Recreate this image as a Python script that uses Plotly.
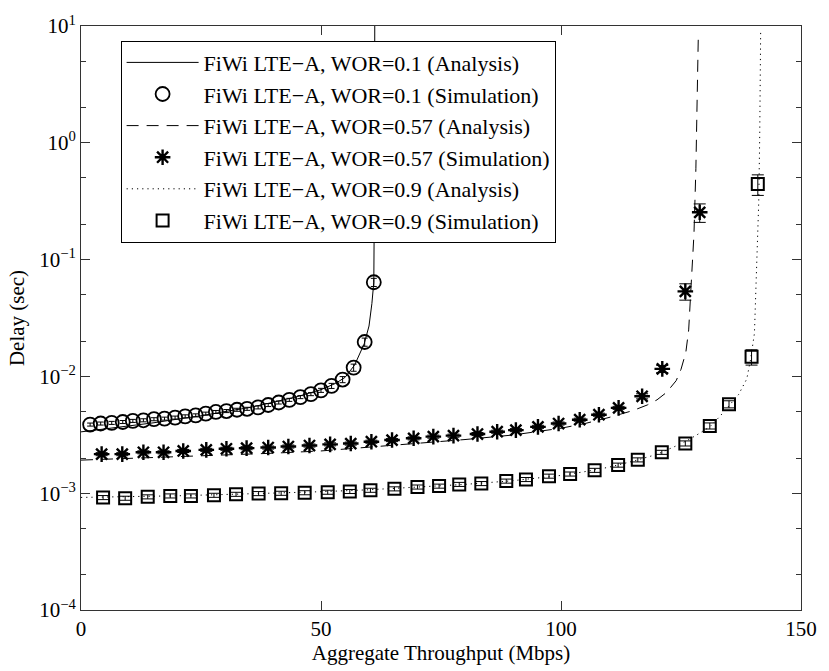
import plotly.graph_objects as go

# ---------------- data ----------------
# WOR = 0.1
ana1_x = [0, 5, 10, 15, 20, 25, 30, 35, 40, 45, 50, 53, 55, 57, 59, 60, 60.6, 61.0, 61.15, 61.2]
ana1_y = [3.35e-3, 3.55e-3, 3.75e-3, 4.0e-3, 4.3e-3, 4.6e-3, 5.0e-3, 5.4e-3, 6.0e-3, 6.7e-3,
          7.7e-3, 8.7e-3, 9.8e-3, 0.0125, 0.019, 0.027, 0.042, 0.064, 0.5, 10]
sim1_x = [1.9, 4.1, 6.4, 8.7, 10.8, 13.0, 15.2, 17.4, 19.6, 21.7, 23.9, 26.0, 28.1, 30.3,
          32.5, 34.6, 36.9, 39.0, 41.2, 43.4, 45.7, 47.9, 50.0, 52.2, 54.5, 56.8, 59.1, 61.0]
sim1_y = [3.87e-3, 3.95e-3, 4.0e-3, 4.07e-3, 4.16e-3, 4.21e-3, 4.30e-3, 4.35e-3, 4.44e-3,
          4.55e-3, 4.64e-3, 4.80e-3, 4.96e-3, 5.05e-3, 5.18e-3, 5.28e-3, 5.43e-3, 5.69e-3,
          5.98e-3, 6.3e-3, 6.65e-3, 7.05e-3, 7.6e-3, 8.3e-3, 9.4e-3, 0.0119, 0.0197, 0.064]
sim1_rel = [0.03] * 22 + [0.04, 0.05, 0.06, 0.07, 0.08, 0.08]

# WOR = 0.57
ana2_x = [0, 10, 20, 30, 40, 50, 60, 70, 80, 90, 100, 105, 110, 115, 118, 120, 122, 124,
          125, 126, 126.6, 127.0, 127.4, 127.7, 128.1, 128.4, 128.6]
ana2_y = [1.92e-3, 1.98e-3, 2.05e-3, 2.12e-3, 2.2e-3, 2.3e-3, 2.48e-3, 2.66e-3, 2.88e-3,
          3.15e-3, 3.6e-3, 3.95e-3, 4.45e-3, 5.1e-3, 5.7e-3, 6.3e-3, 7.3e-3, 9.2e-3,
          0.0115, 0.016, 0.025, 0.05, 0.1, 0.165, 0.6, 2.2, 8.0]
sim2_x = [4.3, 8.6, 13.0, 17.2, 21.3, 26.1, 30.3, 34.5, 39.0, 43.2, 47.6, 51.9, 56.2, 60.5,
          64.8, 69.3, 73.4, 77.6, 82.6, 86.7, 90.6, 95.2, 99.5, 103.9, 107.9, 112.0, 116.9,
          121.1, 125.9, 128.9]
sim2_y = [2.16e-3, 2.16e-3, 2.24e-3, 2.24e-3, 2.30e-3, 2.35e-3, 2.40e-3, 2.43e-3, 2.46e-3,
          2.51e-3, 2.56e-3, 2.62e-3, 2.66e-3, 2.76e-3, 2.85e-3, 2.95e-3, 3.05e-3, 3.11e-3,
          3.21e-3, 3.36e-3, 3.47e-3, 3.70e-3, 3.95e-3, 4.26e-3, 4.70e-3, 5.38e-3, 6.76e-3,
          0.0116, 0.0535, 0.254]
sim2_rel = [0.03] * 26 + [0.05, 0.07, 0.16, 0.18]

# WOR = 0.9
ana3_x = [0, 10, 20, 30, 40, 50, 60, 70, 80, 90, 100, 105, 110, 115, 120, 125, 128, 131,
          133, 135, 137, 138.7, 139.5, 140.3, 140.8, 141.2, 141.4, 141.6]
ana3_y = [9.2e-4, 9.3e-4, 9.5e-4, 9.75e-4, 1.0e-3, 1.03e-3, 1.07e-3, 1.12e-3, 1.19e-3,
          1.28e-3, 1.42e-3, 1.53e-3, 1.67e-3, 1.88e-3, 2.15e-3, 2.65e-3, 3.1e-3, 3.7e-3,
          4.5e-3, 5.6e-3, 7.0e-3, 9.5e-3, 0.014, 0.0234, 0.086, 0.314, 1.15, 9.4]
sim3_x = [4.6, 9.2, 13.9, 18.6, 22.9, 27.7, 32.3, 37.0, 41.7, 46.6, 51.4, 56.0, 60.3, 65.3,
          70.1, 74.6, 78.8, 83.4, 88.6, 92.7, 97.5, 101.9, 107.0, 111.9, 116.0, 121.0,
          125.9, 131.0, 135.0, 139.7, 141.0]
sim3_y = [9.18e-4, 9.06e-4, 9.31e-4, 9.48e-4, 9.48e-4, 9.6e-4, 9.79e-4, 9.93e-4, 9.99e-4,
          1.01e-3, 1.02e-3, 1.035e-3, 1.06e-3, 1.09e-3, 1.13e-3, 1.15e-3, 1.19e-3, 1.21e-3,
          1.27e-3, 1.31e-3, 1.40e-3, 1.46e-3, 1.57e-3, 1.74e-3, 1.93e-3, 2.24e-3, 2.67e-3,
          3.77e-3, 5.78e-3, 0.0147, 0.443]
sim3_rel = [0.04] * 26 + [0.05, 0.06, 0.07, 0.15, 0.2]

names = [
    "FiWi LTE\u2212A, WOR=0.1 (Analysis)",
    "FiWi LTE\u2212A, WOR=0.1 (Simulation)",
    "FiWi LTE\u2212A, WOR=0.57 (Analysis)",
    "FiWi LTE\u2212A, WOR=0.57 (Simulation)",
    "FiWi LTE\u2212A, WOR=0.9 (Analysis)",
    "FiWi LTE\u2212A, WOR=0.9 (Simulation)",
]
y_tickvals = [1e-4, 1e-3, 1e-2, 1e-1, 1e0, 1e1]
y_ticktext = ["10<sup>\u22124</sup>", "10<sup>\u22123</sup>", "10<sup>\u22122</sup>",
              "10<sup>\u22121</sup>", "10<sup>0</sup>", "10<sup>1</sup>"]
x_tickvals = [0, 50, 100, 150]

FONT = "Liberation Serif, Times New Roman, serif"
K = "black"

def errs(y, rel):
    return [a * b for a, b in zip(y, rel)]

fig = go.Figure()
fig.add_trace(go.Scatter(x=ana1_x, y=ana1_y, mode="lines", name=names[0],
                         line=dict(color=K, width=1)))
fig.add_trace(go.Scatter(x=sim1_x, y=sim1_y, mode="markers", name=names[1],
                         marker=dict(symbol="circle-open", size=14, color=K,
                                     line=dict(width=1.8, color=K)),
                         error_y=dict(type="data", array=errs(sim1_y, sim1_rel),
                                      color=K, thickness=1, width=3)))
fig.add_trace(go.Scatter(x=ana2_x, y=ana2_y, mode="lines", name=names[2],
                         line=dict(color=K, width=1, dash="12px,8px")))
fig.add_trace(go.Scatter(x=sim2_x, y=sim2_y, mode="markers", name=names[3],
                         marker=dict(symbol="asterisk-open", size=13, color=K,
                                     line=dict(width=2.4, color=K)),
                         error_y=dict(type="data", array=errs(sim2_y, sim2_rel),
                                      color=K, thickness=1, width=6)))
fig.add_trace(go.Scatter(x=ana3_x, y=ana3_y, mode="lines", name=names[4],
                         line=dict(color=K, width=1, dash="1.2px,4px")))
fig.add_trace(go.Scatter(x=sim3_x, y=sim3_y, mode="markers", name=names[5],
                         marker=dict(symbol="square-open", size=12, color=K,
                                     line=dict(width=2, color=K)),
                         error_y=dict(type="data", array=errs(sim3_y, sim3_rel),
                                      color=K, thickness=1, width=6)))

axis_common = dict(showline=True, linecolor="#333", linewidth=1, mirror="allticks",
                   ticks="inside", tickcolor="#333", showgrid=False, zeroline=False,
                   tickfont=dict(family=FONT, size=21, color=K))

fig.update_xaxes(range=[0, 150], tickvals=x_tickvals, ticklen=9,
                 title=dict(text="Aggregate Throughput (Mbps)",
                            font=dict(family=FONT, size=21, color=K), standoff=3),
                 **axis_common)
fig.update_yaxes(type="log", range=[-4, 1], tickvals=y_tickvals, ticktext=y_ticktext,
                 ticklen=9,
                 minor=dict(ticks="inside", ticklen=5, tickcolor="#333", showgrid=False),
                 title=dict(text="Delay (sec)", font=dict(family=FONT, size=21, color=K),
                            standoff=8),
                 **axis_common)

fig.update_layout(
    width=829, height=671,
    margin=dict(l=81, r=21, t=22, b=57),
    paper_bgcolor="white", plot_bgcolor="white",
    font=dict(family=FONT, size=21, color=K),
    showlegend=True,
    legend=dict(x=0.055, y=0.975, xanchor="left", yanchor="top",
                bgcolor="white", bordercolor=K, borderwidth=1,
                font=dict(family=FONT, size=22, color=K),
                itemwidth=72, tracegroupgap=0),
)

fig.write_html("out.html")
